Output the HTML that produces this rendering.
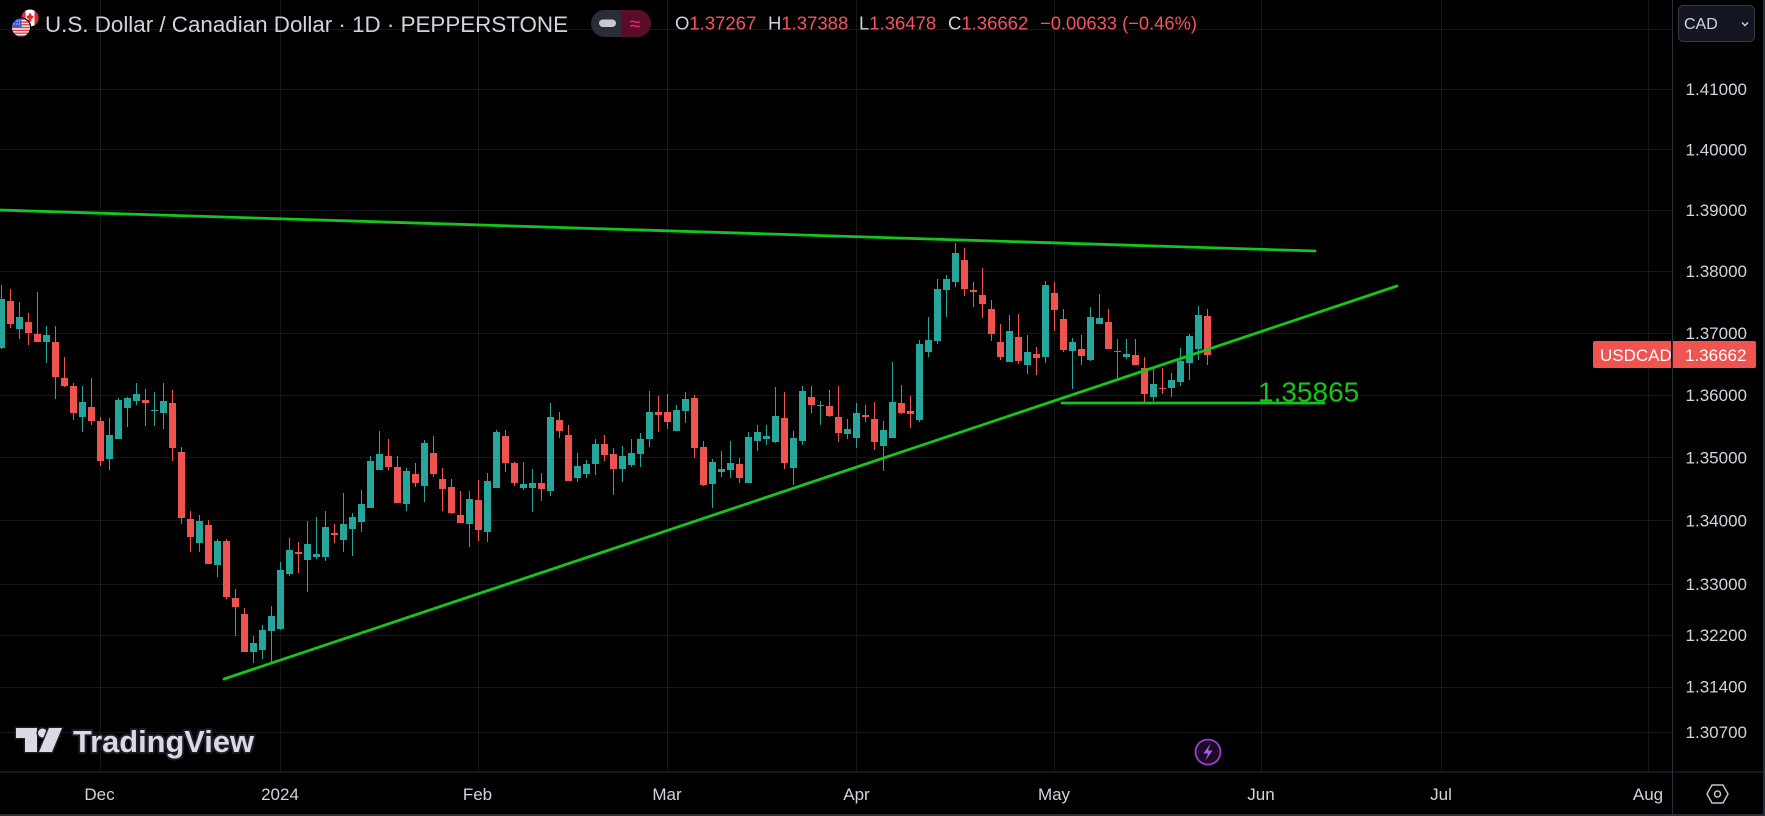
<!DOCTYPE html>
<html><head><meta charset="utf-8"><style>
html,body{margin:0;padding:0;background:#000;}
svg{display:block;font-family:"Liberation Sans",sans-serif;}
</style></head><body>
<svg width="1765" height="816" viewBox="0 0 1765 816" xmlns="http://www.w3.org/2000/svg">
<rect width="1765" height="816" fill="#000"/>
<!-- grid -->
<g stroke="#16171b" stroke-width="1" shape-rendering="crispEdges">
<path d="M0 29.5H1672M0 89.5H1672M0 149.5H1672M0 210.5H1672M0 271.5H1672M0 333.5H1672M0 395.5H1672M0 457.5H1672M0 520.5H1672M0 584.5H1672M0 635.5H1672M0 687.5H1672M0 732.5H1672"/>
<path d="M100.5 0V772M280.5 0V772M478.5 0V772M667.5 0V772M856.5 0V772M1054.5 0V772M1261.5 0V772M1441.5 0V772M1648.5 0V772"/>
</g>
<!-- separators -->
<g fill="#2a2e39" shape-rendering="crispEdges">
<rect x="0" y="771.5" width="1765" height="1"/>
<rect x="1672" y="0" width="1" height="816"/>
<rect x="1763" y="0" width="2" height="816"/>
<rect x="0" y="814" width="1765" height="2"/>
</g>
<!-- candles green -->
<path fill="#26a69a" shape-rendering="crispEdges" d="M-2 299h7v49h-7zM1 285h1v64h-1zM16 317h7v12h-7zM19 302h1v37h-1zM43 335h7v7h-7zM46 326h1v37h-1zM79 402h7v15h-7zM82 386h1v46h-1zM106 435h7v24h-7zM109 418h1v52h-1zM115 400h7v39h-7zM118 398h1v41h-1zM124 398h7v10h-7zM127 397h1v30h-1zM133 394h7v7h-7zM136 383h1v22h-1zM151 410h7v1h-7zM154 392h1v34h-1zM160 401h7v12h-7zM163 383h1v46h-1zM196 521h7v22h-7zM199 515h1v37h-1zM214 541h7v24h-7zM217 539h1v38h-1zM250 643h7v9h-7zM253 636h1v27h-1zM259 630h7v20h-7zM262 625h1v34h-1zM268 616h7v15h-7zM271 606h1v56h-1zM277 570h7v59h-7zM280 562h1v68h-1zM286 550h7v24h-7zM289 538h1v38h-1zM304 544h7v16h-7zM307 521h1v71h-1zM313 554h7v3h-7zM316 517h1v42h-1zM322 527h7v30h-7zM325 511h1v50h-1zM340 524h7v16h-7zM343 493h1v59h-1zM349 517h7v12h-7zM352 513h1v43h-1zM358 504h7v18h-7zM361 490h1v42h-1zM367 461h7v47h-7zM370 456h1v52h-1zM376 454h7v16h-7zM379 431h1v39h-1zM403 471h7v33h-7zM406 468h1v43h-1zM421 443h7v43h-7zM424 440h1v62h-1zM466 499h7v25h-7zM469 491h1v56h-1zM484 481h7v51h-7zM487 473h1v69h-1zM493 432h7v56h-7zM496 430h1v58h-1zM520 484h7v4h-7zM523 462h1v28h-1zM529 483h7v5h-7zM532 469h1v43h-1zM547 417h7v74h-7zM550 403h1v93h-1zM574 466h7v12h-7zM577 453h1v29h-1zM583 464h7v10h-7zM586 460h1v18h-1zM592 444h7v20h-7zM595 439h1v36h-1zM619 456h7v13h-7zM622 446h1v36h-1zM628 453h7v12h-7zM631 439h1v28h-1zM637 439h7v15h-7zM640 433h1v34h-1zM646 412h7v27h-7zM649 391h1v56h-1zM673 410h7v21h-7zM676 405h1v26h-1zM682 399h7v12h-7zM685 392h1v31h-1zM709 462h7v22h-7zM712 459h1v49h-1zM718 469h7v3h-7zM721 451h1v26h-1zM727 463h7v7h-7zM730 441h1v37h-1zM745 437h7v46h-7zM748 432h1v51h-1zM754 432h7v9h-7zM757 425h1v26h-1zM763 436h7v3h-7zM766 425h1v20h-1zM772 416h7v26h-7zM775 387h1v56h-1zM790 438h7v30h-7zM793 431h1v54h-1zM799 391h7v50h-7zM802 386h1v59h-1zM817 405h7v1h-7zM820 401h1v24h-1zM844 429h7v5h-7zM847 419h1v20h-1zM853 413h7v25h-7zM856 403h1v45h-1zM880 430h7v16h-7zM883 421h1v50h-1zM889 402h7v36h-7zM892 362h1v76h-1zM916 344h7v76h-7zM919 340h1v82h-1zM925 340h7v12h-7zM928 317h1v40h-1zM934 289h7v52h-7zM937 279h1v65h-1zM943 279h7v11h-7zM946 275h1v42h-1zM952 253h7v29h-7zM955 243h1v44h-1zM1006 331h7v31h-7zM1009 315h1v47h-1zM1024 352h7v13h-7zM1027 335h1v39h-1zM1042 285h7v72h-7zM1045 281h1v82h-1zM1069 342h7v9h-7zM1072 338h1v51h-1zM1087 317h7v43h-7zM1090 307h1v54h-1zM1096 318h7v6h-7zM1099 294h1v30h-1zM1114 351h7v1h-7zM1117 339h1v39h-1zM1123 354h7v3h-7zM1126 339h1v20h-1zM1150 384h7v13h-7zM1153 369h1v32h-1zM1168 380h7v8h-7zM1171 373h1v24h-1zM1177 361h7v21h-7zM1180 348h1v38h-1zM1186 336h7v27h-7zM1189 334h1v46h-1zM1195 315h7v34h-7zM1198 306h1v54h-1z"/>
<!-- candles red -->
<path fill="#ef5350" shape-rendering="crispEdges" d="M7 301h7v23h-7zM10 289h1v39h-1zM25 322h7v11h-7zM28 313h1v32h-1zM34 334h7v8h-7zM37 292h1v50h-1zM52 342h7v35h-7zM55 326h1v73h-1zM61 378h7v8h-7zM64 357h1v30h-1zM70 386h7v27h-7zM73 383h1v37h-1zM88 407h7v14h-7zM91 378h1v47h-1zM97 421h7v40h-7zM100 417h1v49h-1zM142 400h7v3h-7zM145 389h1v37h-1zM169 403h7v45h-7zM172 390h1v71h-1zM178 452h7v66h-7zM181 447h1v77h-1zM187 519h7v18h-7zM190 511h1v41h-1zM205 525h7v39h-7zM208 520h1v44h-1zM223 541h7v56h-7zM226 539h1v60h-1zM232 598h7v9h-7zM235 589h1v47h-1zM241 614h7v38h-7zM244 608h1v44h-1zM295 552h7v2h-7zM298 542h1v31h-1zM331 533h7v2h-7zM334 524h1v19h-1zM385 456h7v11h-7zM388 439h1v31h-1zM394 467h7v36h-7zM397 456h1v47h-1zM412 474h7v9h-7zM415 463h1v24h-1zM430 453h7v21h-7zM433 436h1v41h-1zM439 479h7v10h-7zM442 468h1v43h-1zM448 487h7v26h-7zM451 479h1v35h-1zM457 515h7v8h-7zM460 491h1v32h-1zM475 500h7v30h-7zM478 480h1v61h-1zM502 436h7v27h-7zM505 430h1v42h-1zM511 463h7v20h-7zM514 462h1v24h-1zM538 483h7v6h-7zM541 473h1v28h-1zM556 420h7v11h-7zM559 412h1v26h-1zM565 435h7v46h-7zM568 425h1v56h-1zM601 444h7v11h-7zM604 435h1v26h-1zM610 454h7v15h-7zM613 448h1v47h-1zM655 412h7v3h-7zM658 396h1v36h-1zM664 412h7v10h-7zM667 394h1v35h-1zM691 398h7v50h-7zM694 395h1v63h-1zM700 447h7v38h-7zM703 441h1v45h-1zM736 464h7v14h-7zM739 458h1v25h-1zM781 418h7v45h-7zM784 392h1v77h-1zM808 397h7v8h-7zM811 386h1v27h-1zM826 406h7v10h-7zM829 390h1v27h-1zM835 417h7v16h-7zM838 386h1v56h-1zM862 415h7v2h-7zM865 405h1v17h-1zM871 419h7v23h-7zM874 402h1v48h-1zM898 403h7v10h-7zM901 385h1v29h-1zM907 411h7v3h-7zM910 396h1v32h-1zM961 260h7v29h-7zM964 248h1v48h-1zM970 290h7v2h-7zM973 282h1v25h-1zM979 295h7v9h-7zM982 268h1v50h-1zM988 309h7v25h-7zM991 300h1v41h-1zM997 342h7v15h-7zM1000 324h1v36h-1zM1015 337h7v24h-7zM1018 314h1v50h-1zM1033 354h7v4h-7zM1036 347h1v28h-1zM1051 293h7v17h-7zM1054 282h1v49h-1zM1060 319h7v31h-7zM1063 309h1v43h-1zM1078 349h7v7h-7zM1081 335h1v30h-1zM1105 322h7v27h-7zM1108 309h1v40h-1zM1132 355h7v10h-7zM1135 339h1v26h-1zM1141 368h7v26h-7zM1144 357h1v45h-1zM1159 388h7v1h-7zM1162 368h1v26h-1zM1204 316h7v39h-7zM1207 309h1v56h-1z"/>
<!-- drawings -->
<g stroke="#16c51c" stroke-width="2.8" stroke-linecap="round" fill="none">
<line x1="-2" y1="210" x2="1315" y2="251"/>
<line x1="224" y1="679" x2="1397" y2="286"/>
<line x1="1062" y1="403" x2="1324" y2="403"/>
</g>
<text x="1258" y="401.5" font-size="28" fill="#16c51c">1.35865</text>
<!-- header flags -->
<defs>
<clipPath id="ca"><circle cx="30" cy="18" r="8.5"/></clipPath>
<clipPath id="us"><circle cx="21" cy="27.5" r="9"/></clipPath>
</defs>
<g clip-path="url(#ca)">
<rect x="21" y="9" width="18" height="18" fill="#fff"/>
<rect x="21" y="9" width="4.5" height="18" fill="#e5262c"/>
<rect x="34.5" y="9" width="4.5" height="18" fill="#e5262c"/>
<path d="M30 12.5l2 3.5 1.5-0.5-0.5 3h-1.5v3h-3v-3h-1.5l-0.5-3 1.5 0.5z" fill="#e5262c"/>
</g>
<circle cx="21" cy="27.5" r="10.3" fill="#000"/>
<g clip-path="url(#us)">
<rect x="11" y="18" width="20" height="20" fill="#f2f2f2"/>
<path d="M11 18.5h20v1.4H11zM11 21.3h20v1.4H11zM11 24.1h20v1.4H11zM11 26.9h20v1.4H11zM11 29.7h20v1.4H11zM11 32.5h20v1.4H11zM11 35.3h20v1.4H11z" fill="#e53a3a"/>
<rect x="11" y="18" width="10.5" height="9.5" fill="#3d5bd6"/>
<path d="M13.5 20.5h1v1h-1zM16.5 20.5h1v1h-1zM19 20.5h1v1h-1zM13.5 23.5h1v1h-1zM16.5 23.5h1v1h-1zM19 23.5h1v1h-1z" fill="#fff"/>
</g>
<text x="45" y="32" font-size="22.5" fill="#d1d4dc" textLength="523" lengthAdjust="spacingAndGlyphs">U.S. Dollar / Canadian Dollar · 1D · PEPPERSTONE</text>
<!-- pill -->
<rect x="591" y="10" width="60" height="27" rx="13.5" fill="#2a2d35"/>
<path d="M621 10H637.5A13.5 13.5 0 0 1 637.5 37H621Z" fill="#5a0d2b"/>
<rect x="599" y="19.5" width="17" height="7.5" rx="3.75" fill="#c8cad2"/>
<text x="635" y="30.5" font-size="20" fill="#e8286e" text-anchor="middle">≈</text>
<!-- OHLC -->
<g font-size="18.5">
<text x="675" y="29.5" fill="#d1d4dc">O<tspan fill="#f7525f">1.37267</tspan></text>
<text x="768" y="29.5" fill="#d1d4dc">H<tspan fill="#f7525f">1.37388</tspan></text>
<text x="859" y="29.5" fill="#d1d4dc">L<tspan fill="#f7525f">1.36478</tspan></text>
<text x="948" y="29.5" fill="#d1d4dc">C<tspan fill="#f7525f">1.36662</tspan></text>
<text x="1040" y="29.5" fill="#f7525f" textLength="157" lengthAdjust="spacingAndGlyphs">−0.00633 (−0.46%)</text>
</g>
<!-- CAD button -->
<rect x="1678.5" y="5.5" width="76" height="36" rx="5" fill="#131621" stroke="#343843" stroke-width="1"/>
<text x="1684" y="29" font-size="16" fill="#d1d4dc">CAD</text>
<polyline points="1742,22.5 1745,25.5 1748,22.5" fill="none" stroke="#d1d4dc" stroke-width="1.4"/>
<!-- price axis labels -->
<g font-size="17" fill="#d1d4dc" text-anchor="end">
<text x="1747" y="95">1.41000</text>
<text x="1747" y="155.5">1.40000</text>
<text x="1747" y="216">1.39000</text>
<text x="1747" y="277">1.38000</text>
<text x="1747" y="339">1.37000</text>
<text x="1747" y="401">1.36000</text>
<text x="1747" y="463.5">1.35000</text>
<text x="1747" y="526.5">1.34000</text>
<text x="1747" y="590">1.33000</text>
<text x="1747" y="641">1.32200</text>
<text x="1747" y="692.5">1.31400</text>
<text x="1747" y="738">1.30700</text>
</g>
<!-- last price label -->
<path d="M1595 341H1671V368H1595A2 2 0 0 1 1593 366V343A2 2 0 0 1 1595 341Z" fill="#f05350"/>
<path d="M1673 341H1754A2 2 0 0 1 1756 343V366A2 2 0 0 1 1754 368H1673Z" fill="#f05350"/>
<text x="1600" y="361" font-size="17" fill="#fff">USDCAD</text>
<text x="1685" y="361" font-size="17" fill="#fff">1.36662</text>
<!-- time axis -->
<g font-size="17" fill="#d1d4dc" text-anchor="middle">
<text x="99.5" y="800">Dec</text>
<text x="280" y="800">2024</text>
<text x="477.5" y="800">Feb</text>
<text x="667" y="800">Mar</text>
<text x="856.5" y="800">Apr</text>
<text x="1054" y="800">May</text>
<text x="1261" y="800">Jun</text>
<text x="1441" y="800">Jul</text>
<text x="1648" y="800">Aug</text>
</g>
<!-- settings icon -->
<polygon points="1707,794 1712,785 1723,785 1728,794 1723,803 1712,803" fill="none" stroke="#c0c3cb" stroke-width="1.5"/>
<circle cx="1717.5" cy="794" r="3" fill="none" stroke="#c0c3cb" stroke-width="1.5"/>
<!-- lightning icon -->
<circle cx="1208" cy="752" r="12.5" fill="#1c0b26" stroke="#9d3fd0" stroke-width="1.8"/>
<path d="M1210.5 743.5L1203.5 753.5H1208L1205.5 760.5L1212.5 750.5H1208Z" fill="#b25ae6"/>
<!-- TradingView logo -->
<g fill="#d9dae3" stroke="#1b1d25" stroke-width="3" paint-order="stroke" stroke-linejoin="round">
<path d="M16 728H37V752H25V738H16Z"/>
<circle cx="42.5" cy="733" r="4.5"/>
<path d="M49 728H62L52 752H39Z"/>
<text x="73" y="752" font-size="31" font-weight="bold" stroke-width="4" textLength="181" lengthAdjust="spacingAndGlyphs">TradingView</text>
</g>
</svg>
</body></html>
